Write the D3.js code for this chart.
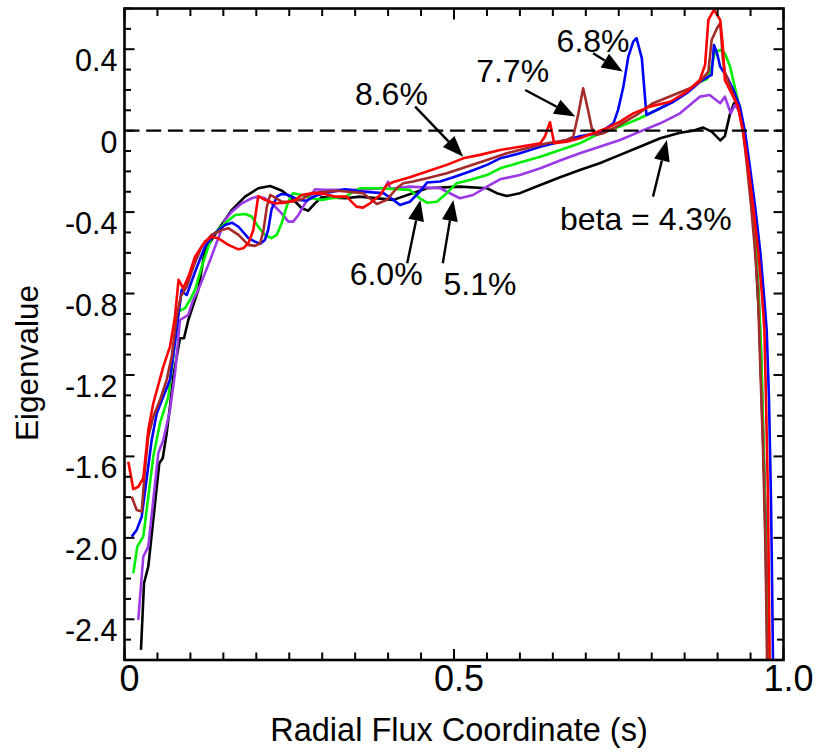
<!DOCTYPE html>
<html>
<head>
<meta charset="utf-8">
<script src="https://cdn.jsdelivr.net/npm/d3@7"></script>
<style>
  body { margin: 0; background: #fff; }
  svg text { font-family: "Liberation Sans", Arial, Helvetica, sans-serif; fill: #000; }
</style>
</head>
<body>
<div id="chart"></div>
<script>
// eigenvalue curves, [s, eigenvalue]
const beta43 = [[0.025,-2.55],[0.0296,-2.223],[0.0361,-2.141],[0.0528,-1.634],[0.058,-1.609],[0.064,-1.486],[0.069,-1.356],[0.074,-1.208],[0.0842,-1.02],[0.0903,-1.02],[0.0968,-0.93],[0.112,-0.782],[0.122,-0.586],[0.142,-0.488],[0.163,-0.389],[0.183,-0.324],[0.203,-0.283],[0.221,-0.272],[0.239,-0.295],[0.254,-0.332],[0.269,-0.381],[0.279,-0.393],[0.289,-0.357],[0.299,-0.327],[0.335,-0.332],[0.357,-0.324],[0.408,-0.34],[0.459,-0.283],[0.509,-0.275],[0.55,-0.283],[0.565,-0.307],[0.58,-0.321],[0.6,-0.307],[0.631,-0.267],[0.661,-0.229],[0.691,-0.193],[0.721,-0.16],[0.752,-0.119],[0.782,-0.079],[0.813,-0.037],[0.843,-0.01],[0.863,0.0],[0.878,0.015],[0.891,-0.005],[0.904,-0.048],[0.911,-0.027],[0.919,0.085],[0.925,0.135],[0.934,0.1],[0.939,-0.013],[0.947,-0.177],[0.952,-0.34],[0.957,-0.537],[0.96,-0.75],[0.963,-0.914],[0.967,-1.32],[0.972,-1.81],[0.975,-2.31],[0.976,-2.6]];

const beta51 = [[0.0209,-2.403],[0.0285,-2.092],[0.0361,-2.043],[0.0513,-1.584],[0.0589,-1.519],[0.069,-1.372],[0.0766,-1.192],[0.0842,-0.93],[0.0968,-0.905],[0.104,-0.832],[0.112,-0.782],[0.13,-0.635],[0.1525,-0.439],[0.163,-0.398],[0.178,-0.357],[0.193,-0.332],[0.203,-0.324],[0.213,-0.332],[0.226,-0.365],[0.2385,-0.406],[0.2486,-0.447],[0.256,-0.447],[0.264,-0.414],[0.274,-0.357],[0.284,-0.316],[0.289,-0.288],[0.304,-0.291],[0.335,-0.291],[0.357,-0.291],[0.395,-0.281],[0.4,-0.25],[0.403,-0.286],[0.433,-0.275],[0.479,-0.283],[0.499,-0.316],[0.509,-0.332],[0.529,-0.316],[0.55,-0.275],[0.57,-0.239],[0.6,-0.218],[0.631,-0.185],[0.661,-0.147],[0.691,-0.111],[0.721,-0.079],[0.752,-0.046],[0.782,-0.005],[0.813,0.036],[0.843,0.085],[0.873,0.167],[0.888,0.175],[0.904,0.135],[0.911,0.167],[0.92,0.085],[0.926,0.126],[0.934,0.092],[0.941,-0.02],[0.947,-0.17],[0.952,-0.34],[0.957,-0.537],[0.962,-0.78],[0.966,-1.08],[0.97,-1.57],[0.973,-2.06],[0.976,-2.6]];

const beta60 = [[0.0134,-2.174],[0.0194,-2.043],[0.0285,-1.994],[0.0437,-1.601],[0.0539,-1.437],[0.0665,-1.306],[0.074,-1.11],[0.0816,-0.889],[0.0918,-0.872],[0.0994,-0.832],[0.107,-0.782],[0.118,-0.66],[0.1323,-0.521],[0.142,-0.488],[0.1525,-0.455],[0.168,-0.414],[0.183,-0.409],[0.193,-0.422],[0.203,-0.472],[0.213,-0.512],[0.223,-0.528],[0.231,-0.512],[0.2385,-0.455],[0.246,-0.373],[0.251,-0.332],[0.256,-0.307],[0.269,-0.316],[0.284,-0.332],[0.299,-0.34],[0.314,-0.332],[0.335,-0.324],[0.357,-0.283],[0.388,-0.283],[0.433,-0.291],[0.448,-0.332],[0.459,-0.354],[0.474,-0.349],[0.489,-0.307],[0.504,-0.258],[0.524,-0.242],[0.55,-0.218],[0.57,-0.185],[0.6,-0.157],[0.631,-0.128],[0.661,-0.095],[0.691,-0.062],[0.721,-0.013],[0.752,0.02],[0.782,0.061],[0.813,0.11],[0.843,0.167],[0.873,0.239],[0.884,0.254],[0.891,0.314],[0.896,0.388],[0.904,0.396],[0.911,0.38],[0.919,0.314],[0.926,0.216],[0.934,0.102],[0.939,0.003],[0.946,-0.173],[0.9525,-0.365],[0.957,-0.56],[0.962,-0.78],[0.966,-1.08],[0.97,-1.57],[0.973,-2.06],[0.976,-2.6]];

const beta68 = [[0.0109,-1.994],[0.0185,-1.961],[0.0261,-1.896],[0.0413,-1.519],[0.0489,-1.388],[0.0589,-1.306],[0.069,-1.224],[0.078,-1.003],[0.0868,-0.782],[0.0892,-0.795],[0.0944,-0.807],[0.107,-0.694],[0.122,-0.57],[0.137,-0.504],[0.1525,-0.463],[0.163,-0.452],[0.173,-0.472],[0.188,-0.528],[0.198,-0.545],[0.206,-0.556],[0.213,-0.537],[0.218,-0.488],[0.223,-0.389],[0.231,-0.324],[0.2385,-0.311],[0.2486,-0.316],[0.264,-0.34],[0.2765,-0.344],[0.289,-0.321],[0.304,-0.307],[0.335,-0.288],[0.362,-0.3],[0.393,-0.307],[0.408,-0.34],[0.418,-0.365],[0.433,-0.349],[0.448,-0.3],[0.459,-0.255],[0.479,-0.25],[0.499,-0.229],[0.524,-0.201],[0.55,-0.168],[0.57,-0.136],[0.6,-0.111],[0.631,-0.079],[0.661,-0.054],[0.691,-0.028],[0.721,-0.01],[0.742,0.036],[0.749,0.102],[0.757,0.216],[0.7645,0.363],[0.772,0.437],[0.777,0.454],[0.785,0.356],[0.792,0.077],[0.813,0.11],[0.833,0.142],[0.853,0.184],[0.873,0.239],[0.886,0.265],[0.891,0.274],[0.8945,0.421],[0.899,0.382],[0.904,0.314],[0.914,0.265],[0.924,0.2],[0.934,0.118],[0.942,-0.013],[0.949,-0.177],[0.957,-0.373],[0.965,-0.602],[0.971,-0.832],[0.9745,-0.979],[0.978,-1.32],[0.981,-1.81],[0.983,-2.31],[0.984,-2.6]];

const beta77 = [[0.0109,-1.798],[0.0185,-1.863],[0.0261,-1.871],[0.031,-1.667],[0.0361,-1.503],[0.0437,-1.405],[0.0539,-1.323],[0.064,-1.224],[0.0716,-1.11],[0.0792,-0.914],[0.0853,-0.815],[0.0944,-0.766],[0.1055,-0.66],[0.117,-0.57],[0.132,-0.512],[0.1475,-0.488],[0.1575,-0.479],[0.173,-0.512],[0.188,-0.561],[0.198,-0.566],[0.206,-0.553],[0.211,-0.488],[0.216,-0.373],[0.221,-0.316],[0.226,-0.324],[0.2385,-0.349],[0.254,-0.349],[0.269,-0.337],[0.284,-0.307],[0.304,-0.3],[0.324,-0.295],[0.362,-0.307],[0.383,-0.36],[0.398,-0.34],[0.413,-0.283],[0.423,-0.258],[0.438,-0.25],[0.459,-0.234],[0.489,-0.209],[0.519,-0.177],[0.55,-0.144],[0.58,-0.111],[0.61,-0.086],[0.641,-0.062],[0.671,-0.046],[0.681,-0.029],[0.6886,0.082],[0.696,0.208],[0.704,0.092],[0.709,0.013],[0.7155,-0.021],[0.7265,-0.013],[0.747,0.02],[0.777,0.077],[0.802,0.135],[0.833,0.175],[0.858,0.208],[0.873,0.241],[0.886,0.29],[0.891,0.445],[0.899,0.503],[0.904,0.528],[0.908,0.35],[0.911,0.288],[0.921,0.2],[0.931,0.118],[0.9385,0.003],[0.9446,-0.173],[0.9507,-0.365],[0.956,-0.56],[0.961,-0.78],[0.964,-1.08],[0.969,-1.57],[0.9727,-2.06],[0.975,-2.6]];

const beta86 = [[0.0058,-1.626],[0.0134,-1.761],[0.0209,-1.749],[0.0285,-1.707],[0.0361,-1.47],[0.0437,-1.339],[0.0589,-1.159],[0.069,-1.061],[0.0766,-0.914],[0.082,-0.733],[0.0892,-0.774],[0.098,-0.709],[0.107,-0.619],[0.122,-0.545],[0.1323,-0.521],[0.142,-0.528],[0.1575,-0.561],[0.173,-0.583],[0.18,-0.578],[0.188,-0.553],[0.1955,-0.488],[0.2006,-0.373],[0.203,-0.321],[0.213,-0.34],[0.228,-0.357],[0.2436,-0.354],[0.259,-0.34],[0.269,-0.316],[0.284,-0.307],[0.304,-0.311],[0.319,-0.324],[0.337,-0.324],[0.352,-0.373],[0.362,-0.378],[0.3725,-0.357],[0.388,-0.316],[0.398,-0.267],[0.408,-0.252],[0.433,-0.229],[0.459,-0.201],[0.489,-0.168],[0.514,-0.136],[0.5395,-0.119],[0.57,-0.095],[0.6,-0.079],[0.631,-0.062],[0.638,-0.029],[0.6457,0.041],[0.652,-0.062],[0.671,-0.054],[0.691,-0.037],[0.711,-0.013],[0.732,0.012],[0.752,0.044],[0.772,0.085],[0.797,0.118],[0.828,0.142],[0.853,0.19],[0.873,0.249],[0.881,0.323],[0.886,0.544],[0.8945,0.593],[0.904,0.544],[0.908,0.413],[0.911,0.249],[0.921,0.184],[0.931,0.118],[0.939,-0.013],[0.9466,-0.177],[0.954,-0.373],[0.962,-0.602],[0.968,-0.832],[0.971,-0.979],[0.9734,-1.32],[0.9765,-1.81],[0.978,-2.31],[0.979,-2.6]];

const seriesData = [beta43, beta51, beta60, beta68, beta77, beta86];
const seriesColors = ['#000000', '#9b3ae6', '#00ee00', '#0000ff', '#a52a2a', '#ff0000'];

const yTicksMajor = [0.4, 0, -0.4, -0.8, -1.2, -1.6, -2.0, -2.4];
const yTickLabels = ['0.4', '0', '-0.4', '-0.8', '-1.2', '-1.6', '-2.0', '-2.4'];
const xTicksMajor = [0, 0.5, 1.0];
const xTickLabels = ['0', '0.5', '1.0'];

// annotations: label, text position, arrow tail, arrow tip (data units)
const noteLabels = ['8.6%', '7.7%', '6.8%', '6.0%', '5.1%', 'beta = 4.3%'];
const noteText = [[0.405, 0.126], [0.589, 0.239], [0.711, 0.388], [0.397, -0.758], [0.5395, -0.807], [0.791, -0.488]];
const noteTail = [[0.441, 0.118], [0.608, 0.2], [0.711, 0.38], [0.429, -0.651], [0.483, -0.651], [0.802, -0.324]];
const noteTip = [[0.514, -0.128], [0.684, 0.069], [0.756, 0.29], [0.449, -0.34], [0.499, -0.34], [0.823, -0.046]];

window.Fig = window.Fig || {};

Fig.init = function() {
    Fig.W = 816;
    Fig.H = 754;
    Fig.left = 124.5;
    Fig.right = 783.5;
    Fig.top = 8.5;
    Fig.bottom = 660;

    Fig.svg = d3.select('#chart').append('svg')
        .attr('width', Fig.W)
        .attr('height', Fig.H);

    Fig.x = d3.scaleLinear().domain([0, 1]).range([Fig.left, Fig.right]);
    Fig.y = d3.scaleLinear().domain([-2.6, 0.6]).range([Fig.bottom, Fig.top]);

    Fig.drawCurves();
    Fig.drawZeroLine();
    Fig.drawAxes();
    Fig.drawNotes();
};

Fig.drawCurves = function() {
    Fig.svg.append('clipPath').attr('id', 'plot-clip')
        .append('rect')
        .attr('x', Fig.left).attr('y', Fig.top)
        .attr('width', Fig.right - Fig.left).attr('height', Fig.bottom - Fig.top);

    let line = d3.line()
        .x(d => Fig.x(d[0]))
        .y(d => Fig.y(d[1]));

    Fig.svg.append('g').attr('clip-path', 'url(#plot-clip)')
        .selectAll('path')
        .data(seriesData)
        .join('path')
        .attr('d', line)
        .attr('fill', 'none')
        .attr('stroke', (d, i) => seriesColors[i])
        .attr('stroke-width', 2.6)
        .attr('stroke-linejoin', 'round');
};

Fig.drawZeroLine = function() {
    Fig.svg.append('line')
        .attr('x1', Fig.left).attr('x2', Fig.right)
        .attr('y1', Fig.y(0)).attr('y2', Fig.y(0))
        .attr('stroke', '#000')
        .attr('stroke-width', 2.4)
        .attr('stroke-dasharray', '15,6.7');
};

Fig.drawAxes = function() {
    let g = Fig.svg.append('g');
    let yMinor = d3.range(-26, 7).map(v => v / 10);
    let xMinor = d3.range(0, 21).map(v => v / 20);

    // y ticks, left and right, inward
    yMinor.forEach(function(v) {
        let major = yTicksMajor.some(m => Math.abs(m - v) < 1e-6);
        let len = major ? 10 : 6.5;
        g.append('line').attr('x1', Fig.left).attr('x2', Fig.left + len)
            .attr('y1', Fig.y(v)).attr('y2', Fig.y(v))
            .attr('stroke', '#000').attr('stroke-width', 2);
        g.append('line').attr('x1', Fig.right).attr('x2', Fig.right - len)
            .attr('y1', Fig.y(v)).attr('y2', Fig.y(v))
            .attr('stroke', '#000').attr('stroke-width', 2);
    });

    // x ticks, bottom and top, inward
    xMinor.forEach(function(s) {
        let major = xTicksMajor.some(m => Math.abs(m - s) < 1e-6);
        let len = major ? 11 : 7.5;
        g.append('line').attr('x1', Fig.x(s)).attr('x2', Fig.x(s))
            .attr('y1', Fig.bottom).attr('y2', Fig.bottom - len)
            .attr('stroke', '#000').attr('stroke-width', 2);
        g.append('line').attr('x1', Fig.x(s)).attr('x2', Fig.x(s))
            .attr('y1', Fig.top).attr('y2', Fig.top + len)
            .attr('stroke', '#000').attr('stroke-width', 2);
    });

    g.append('rect')
        .attr('x', Fig.left).attr('y', Fig.top)
        .attr('width', Fig.right - Fig.left).attr('height', Fig.bottom - Fig.top)
        .attr('fill', 'none').attr('stroke', '#000').attr('stroke-width', 2.6);

    g.selectAll('text.ylab')
        .data(yTicksMajor)
        .join('text')
        .attr('class', 'ylab')
        .attr('x', Fig.left - 7)
        .attr('y', d => Fig.y(d) + 22)
        .attr('text-anchor', 'end')
        .attr('font-size', 30.5)
        .text((d, i) => yTickLabels[i]);

    g.selectAll('text.xlab')
        .data(xTicksMajor)
        .join('text')
        .attr('class', 'xlab')
        .attr('x', d => Fig.x(d) + 5)
        .attr('y', Fig.bottom + 31)
        .attr('text-anchor', 'middle')
        .attr('font-size', 36)
        .text((d, i) => xTickLabels[i]);

    g.append('text')
        .attr('x', 459)
        .attr('y', 741)
        .attr('text-anchor', 'middle')
        .attr('font-size', 32.5)
        .text('Radial Flux Coordinate (s)');

    g.append('text')
        .attr('transform', 'translate(38,' + 363 + ') rotate(-90)')
        .attr('text-anchor', 'middle')
        .attr('font-size', 31.5)
        .text('Eigenvalue');
};

Fig.drawNotes = function() {
    let g = Fig.svg.append('g');
    let headLen = 21, headHalf = 8;

    noteLabels.forEach(function(label, i) {
        g.append('text')
            .attr('x', Fig.x(noteText[i][0]))
            .attr('y', Fig.y(noteText[i][1]))
            .attr('text-anchor', 'middle')
            .attr('font-size', 32)
            .text(label);

        let x0 = Fig.x(noteTail[i][0]), y0 = Fig.y(noteTail[i][1]);
        let x1 = Fig.x(noteTip[i][0]), y1 = Fig.y(noteTip[i][1]);
        let dx = x1 - x0, dy = y1 - y0;
        let L = Math.sqrt(dx*dx + dy*dy);
        let ux = dx / L, uy = dy / L;
        let bx = x1 - ux * headLen, by = y1 - uy * headLen;

        g.append('line')
            .attr('x1', x0).attr('y1', y0).attr('x2', bx).attr('y2', by)
            .attr('stroke', '#000').attr('stroke-width', 2.4);
        g.append('path')
            .attr('d', 'M' + x1 + ',' + y1
                + 'L' + (bx - uy * headHalf) + ',' + (by + ux * headHalf)
                + 'L' + (bx + uy * headHalf) + ',' + (by - ux * headHalf) + 'Z')
            .attr('fill', '#000');
    });
};

document.addEventListener('DOMContentLoaded', Fig.init);
</script>
</body>
</html>
